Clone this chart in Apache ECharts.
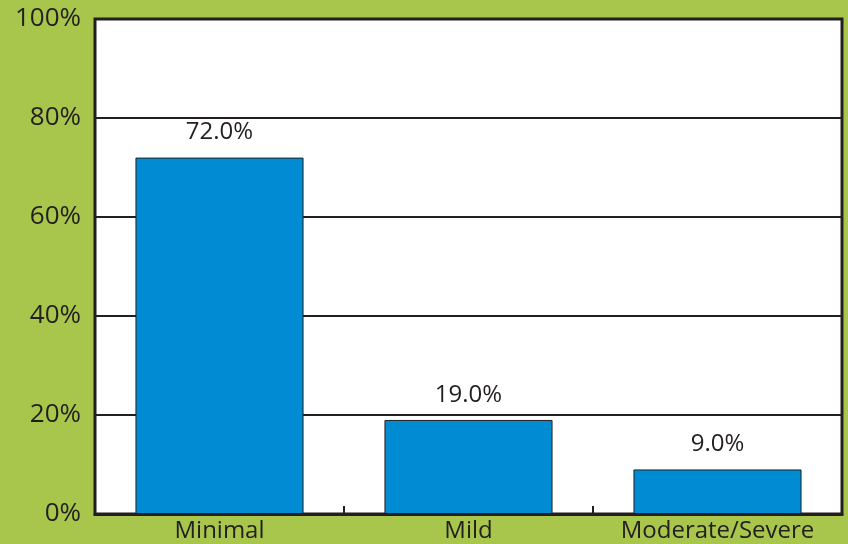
<!DOCTYPE html>
<html><head><meta charset="utf-8">
<script src="https://cdn.jsdelivr.net/npm/echarts@6/dist/echarts.min.js"></script>
<style>html,body{margin:0;padding:0;background:#a8c64b;}#c{width:848px;height:544px;}</style>
</head><body><div id="c"></div>
<script>
const categories = ["Minimal", "Mild", "Moderate/Severe"];
const values = [72.0, 19.0, 9.0];
const yTicks = [0, 20, 40, 60, 80, 100];

const chart = echarts.init(document.getElementById('c'), null, {renderer: 'canvas'});
const font = "'Open Sans', 'Liberation Sans', sans-serif";
chart.setOption({
  backgroundColor: '#a8c64b',
  animation: false,
  grid: {left: 95, right: 6, top: 19, bottom: 30, show: true, backgroundColor: '#ffffff', borderColor: '#231f20', borderWidth: 3},
  xAxis: {
    type: 'category', data: categories,
    axisLine: {show: true, lineStyle: {color: '#231f20', width: 3}},
    axisTick: {show: true, inside: true, length: 8, interval: 0, alignWithLabel: false, lineStyle: {color: '#231f20', width: 2}},
    axisLabel: {color: '#231f20', fontFamily: font, fontSize: 24, margin: 5, interval: 0, hideOverlap: false}
  },
  yAxis: {
    type: 'value', min: yTicks[0], max: yTicks[yTicks.length - 1], interval: 20,
    axisLine: {show: false}, axisTick: {show: false},
    splitLine: {show: true, lineStyle: {color: '#231f20', width: 2}},
    axisLabel: {color: '#231f20', fontFamily: font, fontSize: 26, margin: 14, formatter: v => v + '%'}
  },
  series: [{
    type: 'bar', data: values, barWidth: '67.5%',
    itemStyle: {color: '#008bd2', borderColor: '#231f20', borderWidth: 1},
    label: {show: true, position: 'top', distance: 13, color: '#231f20', fontFamily: font, fontSize: 24, formatter: p => p.value.toFixed(1) + '%'}
  }]
});
</script></body></html>
